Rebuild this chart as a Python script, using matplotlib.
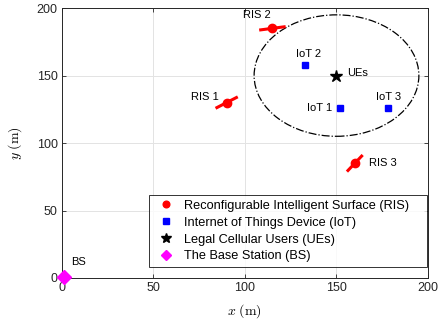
import numpy as np
import matplotlib.pyplot as plt
from matplotlib.patches import Circle

plt.rcParams['font.family'] = ['Liberation Sans', 'DejaVu Sans']
plt.rcParams['mathtext.fontset'] = 'cm'

# node positions (m)
ris_x = [90, 115, 160]
ris_y = [130, 185, 85]
ris_angle = [35, 10, 55]          # panel orientation (deg)
ris_names = ['RIS 1', 'RIS 2', 'RIS 3']

iot_x = [152, 133, 178]
iot_y = [126, 158, 126]
iot_names = ['IoT 1', 'IoT 2', 'IoT 3']

ue_x, ue_y = [150], [150]
bs_x, bs_y = [1], [1]
ue_radius = 45

# label offsets in pixels (dx, dy, ha)
ris_off = [(-8, 6, 'right'), (-2, 13, 'right'), (14, 0, 'left')]
iot_off = [(-8, 0, 'right'), (3, 11, 'center'), (1, 11, 'center')]

fig = plt.figure(figsize=(4.39, 3.24), dpi=100)
ax = fig.add_axes([0.141, 0.142, 0.834, 0.833])

# coverage area of the cellular users
ax.add_patch(Circle((ue_x[0], ue_y[0]), ue_radius, fill=False, ls='-.', lw=0.9, color='k'))

# RIS panels drawn as short segments
half = 6.5
for x, y, a in zip(ris_x, ris_y, ris_angle):
    t = np.deg2rad(a)
    ax.plot([x - half * np.cos(t), x + half * np.cos(t)],
            [y - half * np.sin(t), y + half * np.sin(t)], color='r', lw=2.2)

ax.plot(ris_x, ris_y, 'o', color='r', ms=6, ls='none', label='Reconfigurable Intelligent Surface (RIS)')
ax.plot(iot_x, iot_y, 's', color='b', ms=5, ls='none', label='Internet of Things Device (IoT)')
ax.plot(ue_x, ue_y, '*', color='k', ms=9, ls='none', label='Legal Cellular Users (UEs)')
ax.plot(bs_x, bs_y, 'D', color='magenta', ms=7, ls='none', label='The Base Station (BS)', clip_on=False, zorder=5)

def px(p):
    return p * 72 / 100

for x, y, name, (dx, dy, ha) in zip(ris_x, ris_y, ris_names, ris_off):
    ax.annotate(name, (x, y), xytext=(px(dx), px(dy)), textcoords='offset points', ha=ha, va='center', fontsize=8)
for x, y, name, (dx, dy, ha) in zip(iot_x, iot_y, iot_names, iot_off):
    ax.annotate(name, (x, y), xytext=(px(dx), px(dy)), textcoords='offset points', ha=ha, va='center', fontsize=8)
ax.annotate('UEs', (ue_x[0], ue_y[0]), xytext=(px(11), px(3)), textcoords='offset points', ha='left', va='center', fontsize=8)
ax.annotate('BS', (bs_x[0], bs_y[0]), xytext=(px(7), px(15)), textcoords='offset points', ha='left', va='center', fontsize=8)

ax.set_xlim(0, 200)
ax.set_ylim(0, 200)
ax.set_xticks([0, 50, 100, 150, 200])
ax.set_yticks([0, 50, 100, 150, 200])
ax.tick_params(direction='in', top=True, right=True, labelsize=9, length=3, width=0.6, colors='#262626', pad=3)
ax.grid(True, color='#e3e3e3', lw=0.7)
ax.set_axisbelow(True)
for s in ax.spines.values():
    s.set_linewidth(0.7)
    s.set_color('#262626')

ax.set_xlabel(r'$x\ (\mathrm{m})$', fontsize=10, labelpad=6)
ax.set_ylabel(r'$y\ (\mathrm{m})$', fontsize=10, labelpad=9)

leg = ax.legend(loc='lower left', fontsize=9.2, frameon=True, fancybox=False, edgecolor='k',
                bbox_to_anchor=(0.238, 0.041, 0.759, 0.2), mode='expand', borderaxespad=0,
                handletextpad=0.4, labelspacing=0.38, borderpad=0.35,
                handlelength=2.0, markerscale=0.8)
leg.get_frame().set_linewidth(0.7)

fig.savefig('out.png', dpi=100)
